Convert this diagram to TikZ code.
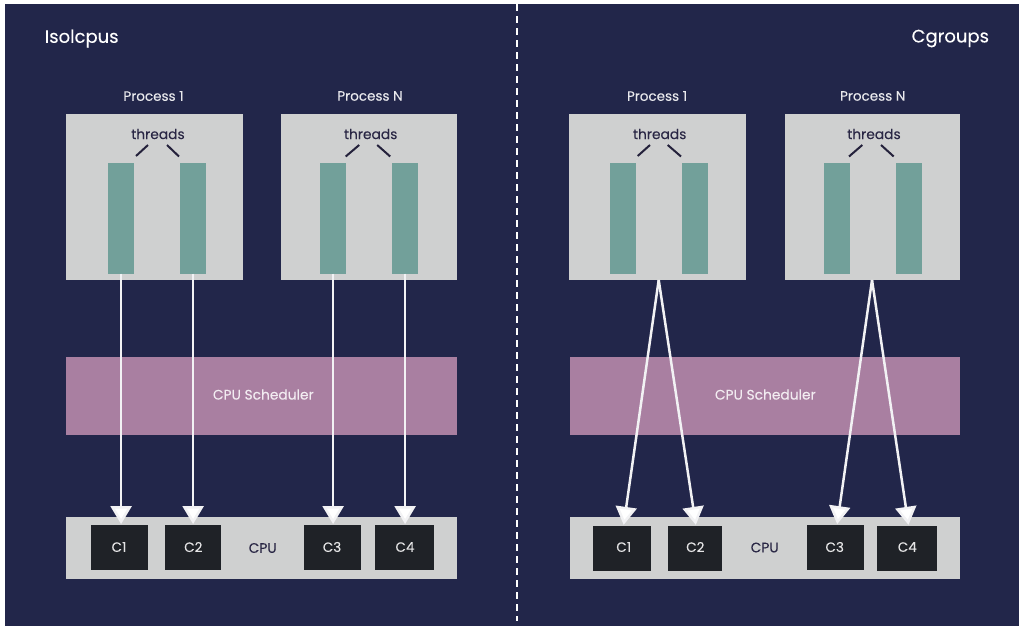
\documentclass[tikz,border=0pt]{standalone}
\usepackage{fontspec}
\setmainfont{Poppins}[FakeBold=0.12]
\usetikzlibrary{positioning, arrows.meta}
\definecolor{panelblue}{HTML}{22264A}
\definecolor{boxgrey}{HTML}{CFD0D0}
\definecolor{threadteal}{HTML}{72A09A}
\definecolor{schedpink}{HTML}{A97FA1}
\definecolor{coredark}{HTML}{1F2227}
\definecolor{inkdark}{HTML}{2A2745}
\tikzset{
  block/.style={anchor=north west, inner sep=0pt, outer sep=0pt},
  procbox/.style={block, fill=boxgrey, minimum width=177pt, minimum height=166pt},
  threadbar/.style={block, fill=threadteal, minimum width=25.6pt, minimum height=110.7pt},
  schedbox/.style={block, fill=schedpink, minimum width=390.7pt, minimum height=78pt},
  cpubox/.style={block, fill=boxgrey, minimum width=390.7pt, minimum height=62pt},
  corebox/.style={block, fill=coredark, minimum height=44.5pt},
  corelabel/.style={text=white!88!coredark, font=\fontsize{13.5}{15}\selectfont},
  title/.style={text=white, font=\fontsize{18}{20}\selectfont},
  proclabel/.style={text=white!90!panelblue, font=\fontsize{13.5}{15}\selectfont},
  schedlabel/.style={text=white!85!schedpink, font=\fontsize{13.8}{15}\selectfont},
  inklabel/.style={text=inkdark, font=\fontsize{13.8}{15}\selectfont},
  tick/.style={draw=inkdark!85!black, line width=2pt},
  pin/.style={draw=white!94!panelblue, line width=2.5pt, shorten >=1.2pt, -{Triangle[width=21pt,length=18pt,fill=white]}}
}
\begin{document}
\begin{tikzpicture}[x=1pt, y=-1pt, node distance=10pt]
  \fill[white] (0,0) rectangle (1024,632);
  \useasboundingbox (0,0) rectangle (1024,632);
  \fill[panelblue] (5,4) rectangle (1019,626);
  \coordinate (dashtop) at (517,4);
  \coordinate (dashend) at (517,621);
  \draw[white, line width=2pt, dash pattern=on 7pt off 5pt] (dashtop) -- (dashend);
  % left side
  \node[title] (isol) at (81.7,38.5) {Isolcpus};
  \node[procbox] (proc1) at (66,114.3) {};
  \node[procbox, minimum width=175.5pt, right = 38.3pt of proc1.north east, anchor=north west] (procn) {};
  \node[proclabel] (lab1) at (153.5,96) {Process 1};
  \node[proclabel] (labn) at (370,96) {Process N};
  \node[inklabel] (thr1) at (158,134) {threads};
  \node[inklabel] (thrn) at (370.7,134) {threads};
  \node[threadbar] (bar1) at (108.3,163) {};
  \node[threadbar] (bar2) at (180.3,163) {};
  \node[threadbar] (bar3) at (320.3,163) {};
  \node[threadbar] (bar4) at (392.3,163) {};
  \draw[tick] ([xshift=-22pt,yshift=-22pt]thr1.center) -- ([xshift=-10pt,yshift=-11pt]thr1.center);
  \draw[tick] ([xshift=9pt,yshift=-11pt]thr1.center) -- ([xshift=21pt,yshift=-22.5pt]thr1.center);
  \draw[tick] ([xshift=-25pt,yshift=-22.5pt]thrn.center) -- ([xshift=-11.5pt,yshift=-11pt]thrn.center);
  \draw[tick] ([xshift=6.5pt,yshift=-11pt]thrn.center) -- ([xshift=19.5pt,yshift=-22.5pt]thrn.center);
  \node[schedbox] (sched) at (66,357) {};
  \node[cpubox] (cpu) at (66,517) {};
  \node[inklabel] (cpulab) at (262.7,548) {CPU};
  \node[corebox, minimum width=57.5pt] (core1) at (90.7,525.3) {};
  \node[corebox, minimum width=55.5pt] (core2) at (165,525.3) {};
  \node[corebox, minimum width=57.5pt] (core3) at (303.5,525.3) {};
  \node[corebox, minimum width=59pt] (core4) at (375,525.3) {};
  \node[corelabel] (c1) at (119,547) {C1};
  \node[corelabel] (c2) at (193.3,547) {C2};
  \node[corelabel] (c3) at (332,547) {C3};
  \node[corelabel] (c4) at (405,547) {C4};
  \node[schedlabel] (schedlab) at (263.3,394.5) {CPU Scheduler};
  \draw[pin] (bar1.south) -- (bar1.south |- core1.north);
  \draw[pin] (bar2.south) -- (bar2.south |- core2.north);
  \draw[pin] (bar3.south) -- (bar3.south |- core3.north);
  \draw[pin] (bar4.south) -- (bar4.south |- core4.north);
  % right side
  \node[title] (cgrp) at (950.3,38.5) {Cgroups};
  \node[procbox] (rproc1) at (569.3,114.3) {};
  \node[procbox, minimum width=175.3pt] (rprocn) at (784.7,114.3) {};
  \node[proclabel] (rlab1) at (657,96) {Process 1};
  \node[proclabel] (rlabn) at (872.7,96) {Process N};
  \node[inklabel] (rthr1) at (659.7,134) {threads};
  \node[inklabel] (rthrn) at (874,134) {threads};
  \node[threadbar] (rbar1) at (610,163) {};
  \node[threadbar] (rbar2) at (682,163) {};
  \node[threadbar] (rbar3) at (824,163) {};
  \node[threadbar] (rbar4) at (896,163) {};
  \draw[tick] ([xshift=-22pt,yshift=-22pt]rthr1.center) -- ([xshift=-9.7pt,yshift=-11pt]rthr1.center);
  \draw[tick] ([xshift=8pt,yshift=-11pt]rthr1.center) -- ([xshift=21.3pt,yshift=-22.5pt]rthr1.center);
  \draw[tick] ([xshift=-25pt,yshift=-22.5pt]rthrn.center) -- ([xshift=-11.7pt,yshift=-11pt]rthrn.center);
  \draw[tick] ([xshift=7pt,yshift=-11pt]rthrn.center) -- ([xshift=19.7pt,yshift=-22.5pt]rthrn.center);
  \node[schedbox] (rsched) at (569.5,357) {};
  \node[cpubox] (rcpu) at (569.5,517) {};
  \node[inklabel] (rcpulab) at (764.7,547.5) {CPU};
  \node[corebox, minimum width=58pt] (rcore1) at (592.7,526) {};
  \node[corebox, minimum width=54.4pt] (rcore2) at (668,526) {};
  \node[corebox, minimum width=57pt] (rcore3) at (806.7,525.3) {};
  \node[corebox, minimum width=59.7pt] (rcore4) at (877.3,526) {};
  \node[corelabel] (rc1) at (623.7,547) {C1};
  \node[corelabel] (rc2) at (695.3,547) {C2};
  \node[corelabel] (rc3) at (834.7,547) {C3};
  \node[corelabel] (rc4) at (907.3,547) {C4};
  \node[schedlabel] (rschedlab) at (765.3,394.5) {CPU Scheduler};
  \coordinate (fork1) at (658.7,280);
  \coordinate (forkn) at (872,280);
  \draw[pin] (fork1) -- ([xshift=1.8pt]rcore1.north);
  \draw[pin] (fork1) -- ([xshift=0.8pt]rcore2.north);
  \draw[pin] (forkn) -- ([xshift=1.8pt]rcore3.north);
  \draw[pin] (forkn) -- ([xshift=1.5pt]rcore4.north);
\end{tikzpicture}
\end{document}
